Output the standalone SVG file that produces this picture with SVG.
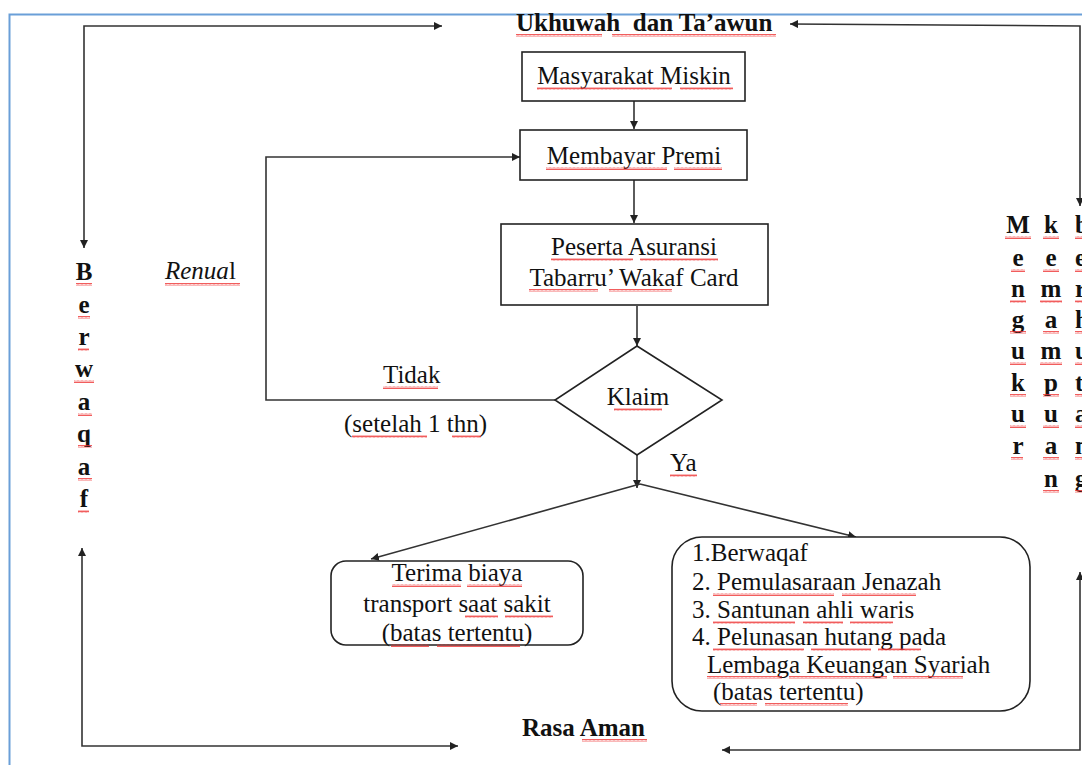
<svg xmlns="http://www.w3.org/2000/svg" width="1082" height="765" viewBox="0 0 1082 765">
<style>
.t{font-family:"Liberation Serif","Times New Roman",serif;fill:#111;font-size:25px}
.b{font-weight:bold}
.c{text-anchor:middle}
.box{fill:#fff;stroke:#222;stroke-width:1.6}
.ln{fill:none;stroke:#333;stroke-width:1.6}
.sq{fill:url(#wave)}
</style>
<defs>
<marker id="ah" viewBox="0 0 10 10" refX="10" refY="5" markerWidth="8" markerHeight="8" markerUnits="userSpaceOnUse" orient="auto-start-reverse">
<path d="M0,0 L10,5 L0,10 z" fill="#222"/>
</marker>
<pattern id="wave" x="0" y="0" width="4" height="3" patternUnits="userSpaceOnUse">
<polyline points="0,2.5 1,0.5 2,2.5 3,0.5 4,2.5" fill="none" stroke="#e33" stroke-width="0.8"/>
</pattern>
</defs>
<rect width="1082" height="765" fill="#fff"/>
<path d="M9.5,800 V14.5 H1100" fill="none" stroke="#6a9fd8" stroke-width="2"/>

<g id="connectors">
<path class="ln" d="M84,248 V26 H442" marker-end="url(#ah)" marker-start="url(#ah)"/>
<path class="ln" d="M790,24 L1080,26 V206" marker-end="url(#ah)" marker-start="url(#ah)"/>
<path class="ln" d="M82,548 V746 H458" marker-end="url(#ah)" marker-start="url(#ah)"/>
<path class="ln" d="M1080,572 V750 H722" marker-end="url(#ah)" marker-start="url(#ah)"/>
<path class="ln" d="M634,101 V129" marker-end="url(#ah)"/>
<path class="ln" d="M634,180 V223" marker-end="url(#ah)"/>
<path class="ln" d="M637,306 V346" marker-end="url(#ah)"/>
<path class="ln" d="M555,400 H266 V157 H520" marker-end="url(#ah)"/>
<path class="ln" d="M637,455 V488" marker-end="url(#ah)"/>
<path class="ln" d="M640,484 L371,559" marker-end="url(#ah)"/>
<path class="ln" d="M640,484 L856,537" marker-end="url(#ah)"/>
</g>

<g id="title-top">
<text class="t b" x="516" y="31" font-size="26" style="white-space:pre">Ukhuwah  dan Ta’awun</text>
</g>
<g id="masyarakat">
<rect class="box" x="522" y="52" width="223" height="49"/>
<text class="t c" x="634" y="84" font-size="26">Masyarakat Miskin</text>
</g>
<g id="membayar">
<rect class="box" x="520" y="130" width="227" height="50"/>
<text class="t c" x="634" y="164" font-size="26">Membayar Premi</text>
</g>
<g id="peserta">
<rect class="box" x="501" y="224" width="267" height="81"/>
<text class="t c" x="634" y="255" font-size="26">Peserta Asuransi</text>
<text class="t c" x="634" y="286" font-size="26">Tabarru’ Wakaf Card</text>
</g>
<g id="klaim">
<polygon class="box" points="637,346 722,400 637,455 555,400"/>
<text class="t c" x="638" y="405" font-size="16.5">Klaim</text>
</g>
<g id="label-renual">
<text class="t" x="165" y="279"><tspan font-style="italic">Renua</tspan>l</text>
</g>
<g id="label-tidak">
<text class="t" x="383" y="383">Tidak</text>
<text class="t" x="344" y="432">(setelah 1 thn)</text>
</g>
<g id="label-ya">
<text class="t" x="670" y="471">Ya</text>
</g>
<g id="transport">
<rect class="box" x="331" y="561" width="252" height="84" rx="15"/>
<text class="t c" x="457" y="581" font-size="26">Terima biaya</text>
<text class="t c" x="457" y="612" font-size="26">transport saat sakit</text>
<text class="t c" x="457" y="641" font-size="26">(batas tertentu)</text>
</g>
<g id="manfaat">
<rect class="box" x="672" y="537" width="358" height="174" rx="30"/>
<text class="t" x="692" y="561" font-size="22">1.Berwaqaf</text>
<text class="t" x="692" y="590" font-size="22">2. Pemulasaraan Jenazah</text>
<text class="t" x="692" y="618" font-size="22">3. Santunan ahli waris</text>
<text class="t" x="692" y="645" font-size="22">4. Pelunasan hutang pada</text>
<text class="t" x="707" y="673" font-size="22">Lembaga Keuangan Syariah</text>
<text class="t" x="713" y="700" font-size="22">(batas tertentu)</text>
</g>
<g id="rasa-aman">
<text class="t b" x="522" y="736" font-size="25.5">Rasa Aman</text>
</g>
<g id="berwaqaf">
<text class="t b c" x="84" y="280">B</text>
<text class="t b c" x="84" y="313">e</text>
<text class="t b c" x="84" y="345">r</text>
<text class="t b c" x="84" y="377">w</text>
<text class="t b c" x="84" y="410">a</text>
<text class="t b c" x="84" y="442">q</text>
<text class="t b c" x="84" y="475">a</text>
<text class="t b c" x="84" y="507">f</text>
</g>
<g id="mengukur">
<text class="t b c" x="1018" y="233">M</text>
<text class="t b c" x="1018" y="266">e</text>
<text class="t b c" x="1018" y="297">n</text>
<text class="t b c" x="1018" y="328">g</text>
<text class="t b c" x="1018" y="359">u</text>
<text class="t b c" x="1018" y="391">k</text>
<text class="t b c" x="1018" y="422">u</text>
<text class="t b c" x="1018" y="454">r</text>
</g>
<g id="kemampuan">
<text class="t b c" x="1051" y="233">k</text>
<text class="t b c" x="1051" y="266">e</text>
<text class="t b c" x="1051" y="297">m</text>
<text class="t b c" x="1051" y="328">a</text>
<text class="t b c" x="1051" y="359">m</text>
<text class="t b c" x="1051" y="391">p</text>
<text class="t b c" x="1051" y="422">u</text>
<text class="t b c" x="1051" y="454">a</text>
<text class="t b c" x="1051" y="487">n</text>
</g>
<g id="berhutang">
<text class="t b" x="1075" y="233">b</text>
<text class="t b" x="1075" y="266">e</text>
<text class="t b" x="1075" y="297">r</text>
<text class="t b" x="1075" y="328">h</text>
<text class="t b" x="1075" y="359">u</text>
<text class="t b" x="1075" y="391">t</text>
<text class="t b" x="1075" y="422">a</text>
<text class="t b" x="1075" y="454">n</text>
<text class="t b" x="1075" y="487">g</text>
</g>

<g id="spellcheck">
<rect class="sq" x="516" y="34" width="86" height="3"/>
<rect class="sq" x="612" y="34" width="164" height="3"/>
<rect class="sq" x="537" y="87" width="135" height="3"/>
<rect class="sq" x="680" y="87" width="53" height="3"/>
<rect class="sq" x="546" y="167" width="121" height="3"/>
<rect class="sq" x="674" y="167" width="48" height="3"/>
<rect class="sq" x="551" y="258" width="82" height="3"/>
<rect class="sq" x="640" y="258" width="78" height="3"/>
<rect class="sq" x="529" y="289" width="69" height="3"/>
<rect class="sq" x="609" y="289" width="63" height="3"/>
<rect class="sq" x="165" y="283" width="75" height="3"/>
<rect class="sq" x="383" y="386" width="55" height="3"/>
<rect class="sq" x="352" y="435" width="75" height="3"/>
<rect class="sq" x="452" y="435" width="29" height="3"/>
<rect class="sq" x="614" y="408" width="48" height="3"/>
<rect class="sq" x="670" y="474" width="27" height="3"/>
<rect class="sq" x="392" y="584" width="69" height="3"/>
<rect class="sq" x="467" y="584" width="55" height="3"/>
<rect class="sq" x="465" y="615" width="33" height="3"/>
<rect class="sq" x="505" y="615" width="48" height="3"/>
<rect class="sq" x="391" y="644" width="38" height="3"/>
<rect class="sq" x="437" y="644" width="83" height="3"/>
<rect class="sq" x="713" y="593" width="121" height="3"/>
<rect class="sq" x="842" y="593" width="74" height="3"/>
<rect class="sq" x="713" y="621" width="82" height="3"/>
<rect class="sq" x="803" y="621" width="40" height="3"/>
<rect class="sq" x="850" y="621" width="43" height="3"/>
<rect class="sq" x="713" y="648" width="91" height="3"/>
<rect class="sq" x="811" y="648" width="60" height="3"/>
<rect class="sq" x="878" y="648" width="43" height="3"/>
<rect class="sq" x="707" y="676" width="75" height="3"/>
<rect class="sq" x="789" y="676" width="98" height="3"/>
<rect class="sq" x="893" y="676" width="70" height="3"/>
<rect class="sq" x="720" y="703" width="37" height="3"/>
<rect class="sq" x="765" y="703" width="83" height="3"/>
<rect class="sq" x="582" y="739" width="65" height="3"/>
<rect class="sq" x="76" y="283" width="16" height="3"/>
<rect class="sq" x="78" y="316" width="12" height="3"/>
<rect class="sq" x="78" y="348" width="11" height="3"/>
<rect class="sq" x="74" y="380" width="20" height="3"/>
<rect class="sq" x="78" y="413" width="14" height="3"/>
<rect class="sq" x="78" y="445" width="14" height="3"/>
<rect class="sq" x="78" y="478" width="14" height="3"/>
<rect class="sq" x="78" y="510" width="11" height="3"/>
<rect class="sq" x="1005" y="236" width="26" height="3"/>
<rect class="sq" x="1011" y="269" width="14" height="3"/>
<rect class="sq" x="1010" y="300" width="16" height="3"/>
<rect class="sq" x="1010" y="331" width="16" height="3"/>
<rect class="sq" x="1010" y="362" width="16" height="3"/>
<rect class="sq" x="1010" y="394" width="16" height="3"/>
<rect class="sq" x="1010" y="425" width="16" height="3"/>
<rect class="sq" x="1011" y="457" width="12" height="3"/>
<rect class="sq" x="1043" y="236" width="16" height="3"/>
<rect class="sq" x="1043" y="269" width="16" height="3"/>
<rect class="sq" x="1040" y="300" width="22" height="3"/>
<rect class="sq" x="1043" y="331" width="16" height="3"/>
<rect class="sq" x="1040" y="362" width="22" height="3"/>
<rect class="sq" x="1043" y="394" width="16" height="3"/>
<rect class="sq" x="1043" y="425" width="16" height="3"/>
<rect class="sq" x="1043" y="457" width="16" height="3"/>
<rect class="sq" x="1043" y="490" width="16" height="3"/>
<rect class="sq" x="1075" y="236" width="7" height="3"/>
<rect class="sq" x="1075" y="269" width="7" height="3"/>
<rect class="sq" x="1075" y="300" width="7" height="3"/>
<rect class="sq" x="1075" y="331" width="7" height="3"/>
<rect class="sq" x="1075" y="362" width="7" height="3"/>
<rect class="sq" x="1075" y="394" width="7" height="3"/>
<rect class="sq" x="1075" y="425" width="7" height="3"/>
<rect class="sq" x="1075" y="457" width="7" height="3"/>
<rect class="sq" x="1075" y="490" width="7" height="3"/>
</g>
</svg>
